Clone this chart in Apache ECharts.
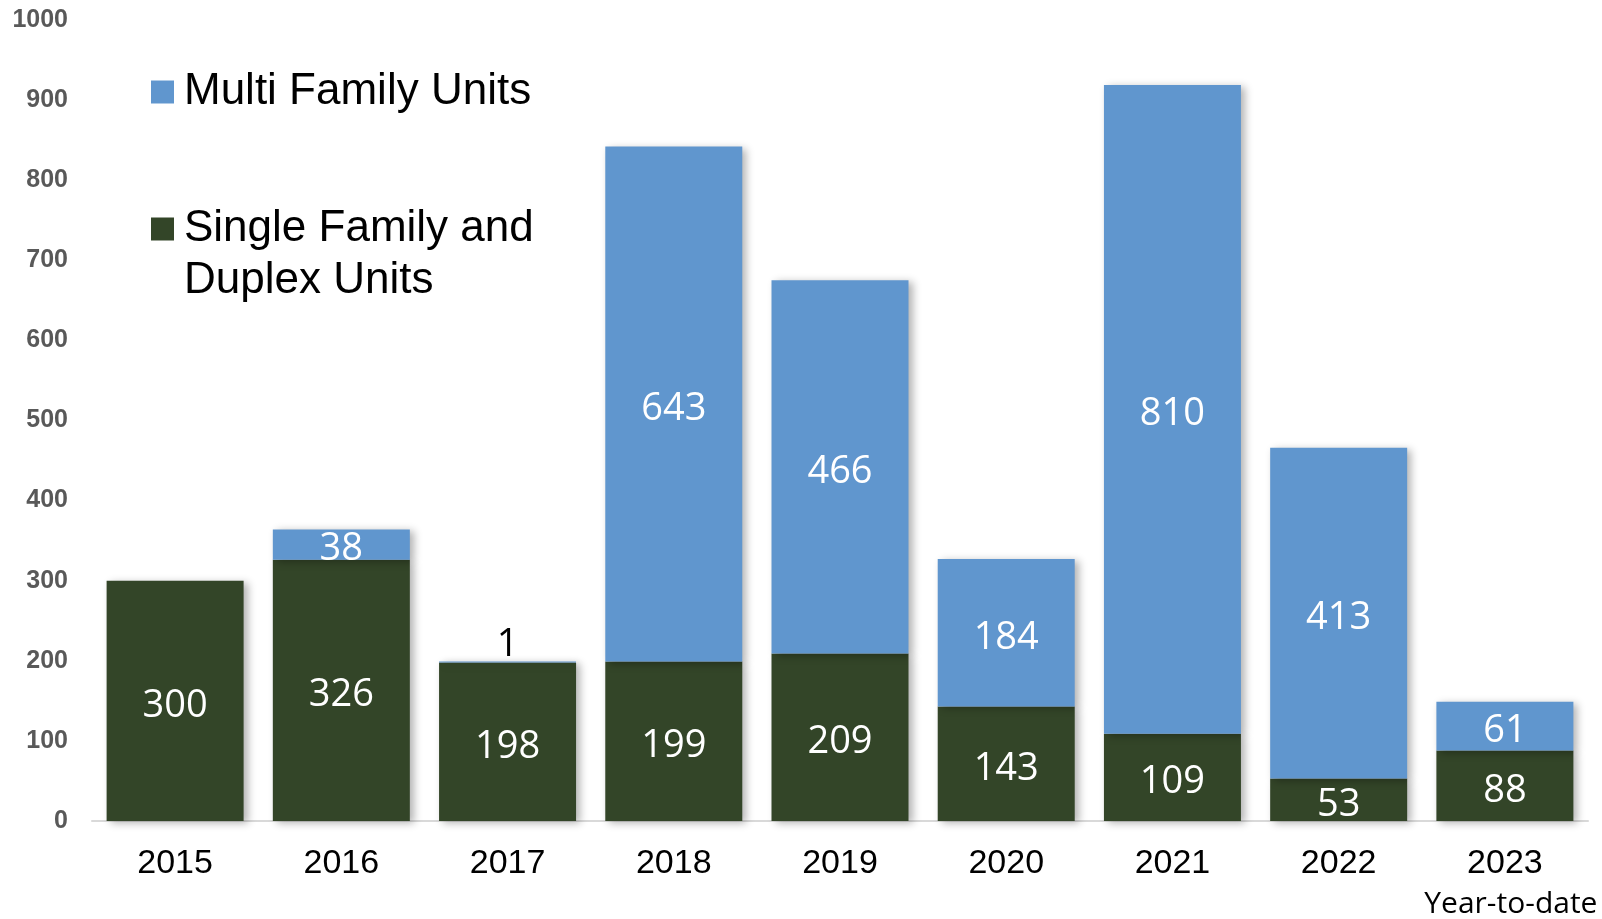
<!DOCTYPE html>
<html>
<head>
<meta charset="utf-8">
<script src="https://cdn.jsdelivr.net/npm/echarts@6/dist/echarts.min.js"></script>
<style>
  html, body { margin: 0; padding: 0; background: #fff; }
  #chart1 { width: 1602px; height: 919px; }
</style>
</head>
<body>
<div id="chart1"></div>
<script>
let years = ['2015', '2016', '2017', '2018', '2019', '2020', '2021', '2022', '2023'];
let singleFamily = [300, 326, 198, 199, 209, 143, 109, 53, 88];
let multiFamily = [null, 38, 1, 643, 466, 184, 810, 413, 61];
let yTicks = [0, 100, 200, 300, 400, 500, 600, 700, 800, 900, 1000];
let lastYearNote = 'Year-to-date';

let dom1 = document.getElementById("chart1");
let Chart1 = echarts.init(dom1);

let barShadow = {
    shadowBlur: 8,
    shadowOffsetX: 4,
    shadowOffsetY: 2,
    shadowColor: 'rgba(0,0,0,0.3)'
};

let multiData = multiFamily.map(function (v) {
    // tiny segment gets its label above the bar, in black
    if (v !== null && v < 5) {
        return { value: v, label: { position: 'top', color: '#000', distance: 2 } };
    }
    return v;
});

let legendText = {
    fontFamily: 'Liberation Sans',
    fontSize: 44,
    lineHeight: 52,
    color: '#000',
    padding: [0, 0, 0, 5]
};

let option1 = {
    animation: false,
    legend: [
        {
            data: ['Multi Family Units'],
            left: 146,
            top: 61,
            itemWidth: 23,
            itemHeight: 23,
            icon: 'rect',
            textStyle: legendText
        },
        {
            data: ['Single Family and Duplex Units'],
            left: 146,
            top: 146,
            itemWidth: 23,
            itemHeight: 23,
            icon: 'rect',
            // empty first line keeps the icon level with "Single Family and"
            formatter: function () { return '\nSingle Family and\nDuplex Units'; },
            textStyle: legendText
        }
    ],
    grid: {
        top: 20,
        left: 92,
        right: 14,
        bottom: 98
    },
    xAxis: {
        type: 'category',
        data: years,
        axisTick: { show: false },
        axisLine: {
            lineStyle: { color: '#d9d9d9', width: 2 }
        },
        axisLabel: {
            interval: 0,
            margin: 26,
            fontFamily: 'Liberation Sans',
            fontSize: 34,
            color: '#000',
            formatter: function (value) {
                if (value === years[years.length - 1]) {
                    return value + '\n{note|' + lastYearNote + '}';
                }
                return value;
            },
            rich: {
                note: {
                    fontFamily: 'Open Sans',
                    fontSize: 30,
                    color: '#000',
                    lineHeight: 46,
                    padding: [0, 0, 0, 12]
                }
            }
        }
    },
    yAxis: {
        type: 'value',
        min: yTicks[0],
        max: yTicks[yTicks.length - 1],
        interval: 100,
        splitLine: { show: false },
        axisLine: { show: false },
        axisTick: { show: false },
        axisLabel: {
            margin: 24,
            fontFamily: 'Liberation Sans',
            fontWeight: 'bold',
            fontSize: 25,
            color: '#595959',
            formatter: function (v) { return String(v); }
        }
    },
    series: [
        {
            name: 'Single Family and Duplex Units',
            type: 'bar',
            stack: 'units',
            barWidth: 137,
            color: '#334528',
            itemStyle: barShadow,
            label: {
                show: true,
                position: 'inside',
                offset: [0, 5],
                fontFamily: 'Open Sans',
                fontSize: 38,
                color: '#fff'
            },
            data: singleFamily,
            z: 2
        },
        {
            name: 'Multi Family Units',
            type: 'bar',
            stack: 'units',
            barWidth: 137,
            color: '#6096CE',
            itemStyle: barShadow,
            label: {
                show: true,
                position: 'inside',
                offset: [0, 5],
                fontFamily: 'Open Sans',
                fontSize: 38,
                color: '#fff'
            },
            data: multiData,
            z: 2
        }
    ]
};

Chart1.setOption(option1);
</script>
</body>
</html>
